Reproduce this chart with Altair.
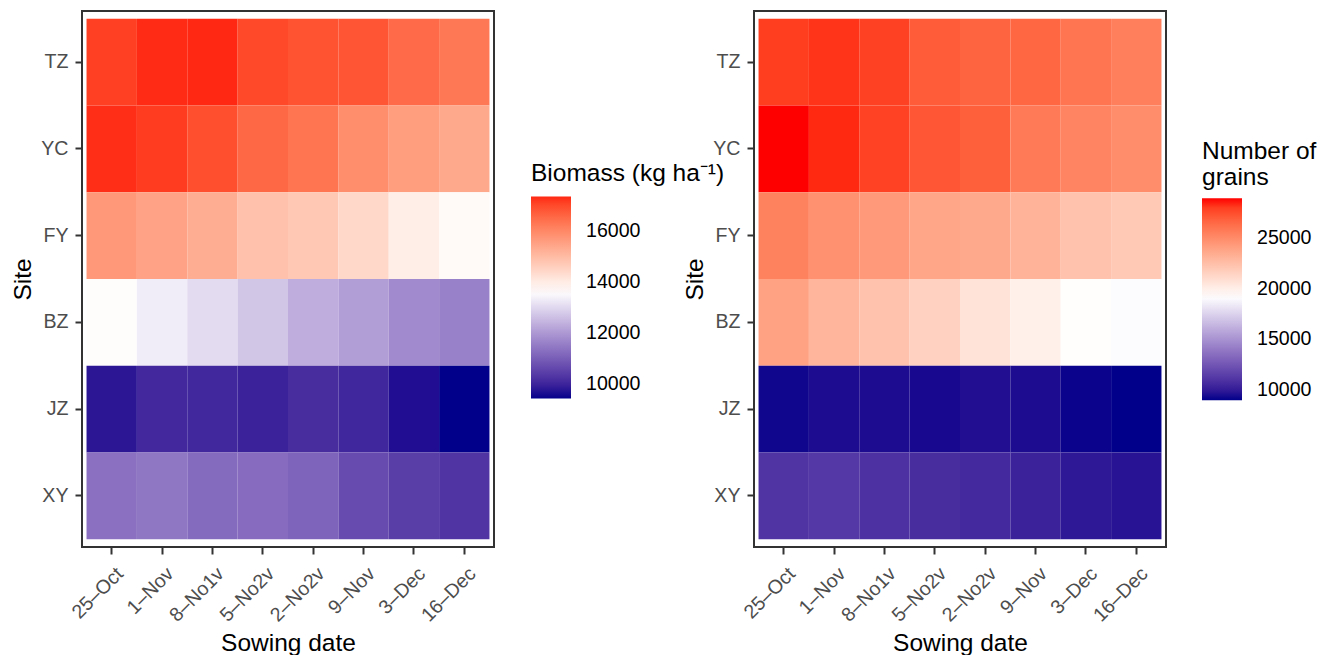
import altair as alt
import pandas as pd

sites = ["TZ", "YC", "FY", "BZ", "JZ", "XY"]
dates = ["25–Oct", "1–Nov", "8–No1v", "5–No2v", "2–No2v", "9–Nov", "3–Dec", "16–Dec"]

# Biomass (kg ha-1), one list per site, in sowing-date order
biomass_TZ = [17100, 17300, 17325, 16990, 16850, 16820, 16490, 16270]
biomass_YC = [17280, 17140, 16910, 16530, 16330, 15870, 15580, 15360]
biomass_FY = [15680, 15480, 15270, 14880, 14730, 14400, 13950, 13720]
biomass_BZ = [13640, 13330, 13060, 12720, 12340, 12100, 11770, 11620]
biomass_JZ = [9780, 10070, 10080, 9970, 10160, 10060, 9650, 9454]
biomass_XY = [11340, 11450, 11240, 11250, 11120, 10700, 10460, 10290]

# Number of grains
grains_TZ = [28000, 28240, 27890, 27010, 26720, 26590, 26010, 25570]
grains_YC = [28943, 28510, 27880, 27180, 26870, 25760, 25360, 24970]
grains_FY = [25410, 24740, 24340, 23740, 23610, 23090, 22320, 21990]
grains_BZ = [23930, 22990, 22300, 21550, 20650, 19960, 19250, 19050]
grains_JZ = [9180, 9400, 9400, 9290, 9500, 9400, 9120, 8992]
grains_XY = [11040, 11220, 10920, 10730, 10580, 10260, 9880, 9660]

biomass_mid = 13600
grains_mid = 19190
biomass_ticks = [10000, 12000, 14000, 16000]
grains_ticks = [10000, 15000, 20000, 25000]


def table(rows):
    recs = []
    for s, vals in zip(sites, rows):
        for d, v in zip(dates, vals):
            recs.append({"site": s, "date": d, "value": v})
    return pd.DataFrame(recs)


def panel(df, mid, top_color, title, ticks, lx, ly, tpad):
    lo = float(df["value"].min())
    hi = float(df["value"].max())
    return alt.Chart(df).mark_rect().encode(
        x=alt.X("date:N", sort=dates, title="Sowing date",
                scale=alt.Scale(paddingInner=0, paddingOuter=0.09),
                axis=alt.Axis(labelAngle=-45, labelAlign="right", labelBaseline="top",
                              labelPadding=10, labelOffset=2, titleY=84)),
        y=alt.Y("site:N", sort=sites, title="Site",
                scale=alt.Scale(paddingInner=0, paddingOuter=0.09),
                axis=alt.Axis(titleX=-47, labelPadding=7)),
        color=alt.Color("value:Q",
                        scale=alt.Scale(domain=[lo, mid, hi],
                                        range=["#00008B", "#FFFFFF", top_color],
                                        interpolate="lab"),
                        legend=alt.Legend(title=title, values=ticks, orient="none",
                                          legendX=lx, legendY=ly, titlePadding=tpad,
                                          direction="vertical", format="d",
                                          labelOffset=15, titleLimit=400)),
    ).properties(width=412, height=536)


left = panel(table([biomass_TZ, biomass_YC, biomass_FY, biomass_BZ, biomass_JZ, biomass_XY]),
             biomass_mid, "#FF2812", "Biomass (kg ha⁻¹)", biomass_ticks, 449, 150.5, 10.5)
right = panel(table([grains_TZ, grains_YC, grains_FY, grains_BZ, grains_JZ, grains_XY]),
              grains_mid, "#FF0000", ["Number of", "grains"], grains_ticks, 448, 128.7, 7.5)

chart = alt.hconcat(left, right, spacing=260, bounds="flush").resolve_scale(
    color="independent"
).properties(
    padding={"left": 1, "top": 2, "right": 5, "bottom": 0}
).configure(
    font="Liberation Sans"
).configure_view(
    stroke="#333333", strokeWidth=2
).configure_axis(
    labelFontSize=19.6, labelColor="#4D4D4D", titleFontSize=24.5, titleFontWeight="normal",
    titleColor="black", tickColor="#333333", tickWidth=2, tickSize=7,
    domain=False, grid=False
).configure_legend(
    gradientLength=202, gradientThickness=40, labelFontSize=19.6,
    labelColor="black", titleFontSize=24.5, titleFontWeight="normal", titleColor="black",
    titleLineHeight=26.5, gradientStrokeWidth=0, labelOverlap=False
)

chart.save("out.html", embed_options={"renderer": "svg", "actions": False})
